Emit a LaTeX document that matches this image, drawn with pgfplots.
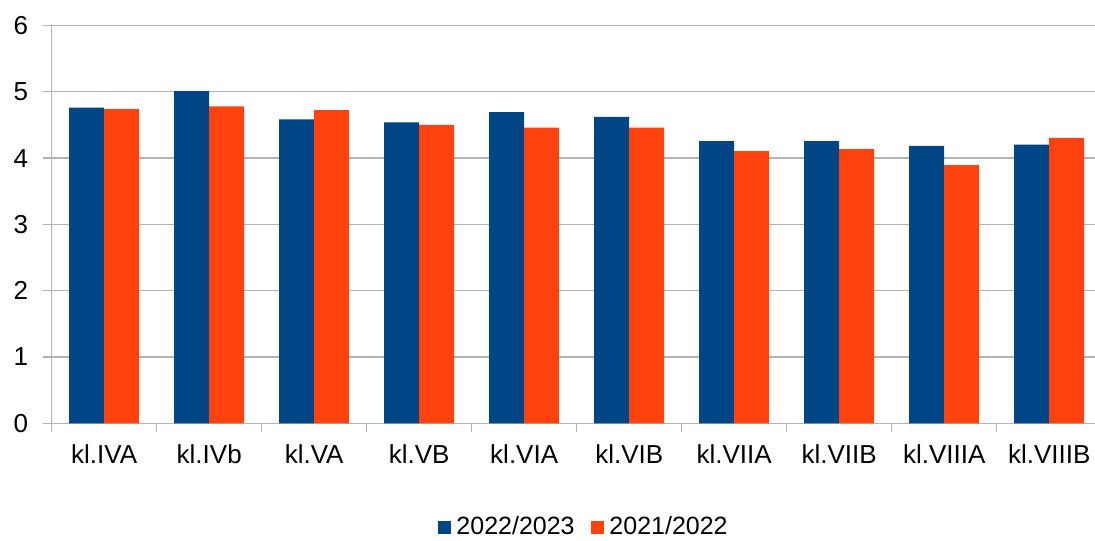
\documentclass[border=0pt]{standalone}
\usepackage{pgfplots}
\pgfplotsset{compat=1.18}
\usepackage{fontspec}
\setmainfont{Liberation Sans}
\definecolor{sblue}{HTML}{004586}
\definecolor{sorange}{HTML}{FF420E}
\definecolor{gridgray}{HTML}{B3B3B3}
\begin{document}
\begin{tikzpicture}
\path[use as bounding box] (-25.85pt,-58.35pt) rectangle (521.65pt,211.65pt);
\begin{axis}[
  at={(0pt,0pt)}, anchor=south west,
  scale only axis,
  width=525pt, height=198.9pt,
  xmin=-0.5, xmax=9.5,
  ymin=0, ymax=6,
  ybar=0pt, bar width=17.5pt,
  axis x line=bottom, axis y line=left,
  axis line style={draw=gridgray, line width=0.6pt, -},
  tick style={draw=gridgray, line width=0.6pt},
  tick align=outside,
  major tick length=4.3pt,
  xtick={-0.5,0.5,...,9.5},
  x tick label as interval,
  xticklabels={kl.IVA,kl.IVb,kl.VA,kl.VB,kl.VIA,kl.VIB,kl.VIIA,kl.VIIB,kl.VIIIA,kl.VIIIB},
  ytick={0,1,...,6},
  ymajorgrids,
  major grid style={draw=gridgray, line width=0.6pt},
  /pgf/number format/assume math mode=true,
  tick label style={font=\fontsize{13}{15}\selectfont, text=black},
  yticklabel style={xshift=-4pt},
  xticklabel style={yshift=-3pt},
  legend columns=2,
  legend style={draw=none, fill=none, at={(0.507,-0.2607)}, anchor=center,
    font=\fontsize{12.5}{15}\selectfont,
    /tikz/every even column/.append style={column sep=7pt},
    nodes={inner sep=1.2pt}},
  legend image code/.code={\fill[#1] (0pt,-3.25pt) rectangle (6.5pt,3.25pt);},
  legend style={/tikz/every odd column/.append style={column sep=1.5pt}},
]
\addplot[fill=sblue, draw=none] coordinates {
(0,4.76) (1,5.01) (2,4.585) (3,4.54) (4,4.695) (5,4.62) (6,4.255) (7,4.255) (8,4.185) (9,4.205)};
\addplot[fill=sorange, draw=none] coordinates {
(0,4.74) (1,4.78) (2,4.725) (3,4.50) (4,4.46) (5,4.46) (6,4.105) (7,4.135) (8,3.895) (9,4.305)};
\legend{2022/2023,2021/2022}
\end{axis}
\end{tikzpicture}
\end{document}
